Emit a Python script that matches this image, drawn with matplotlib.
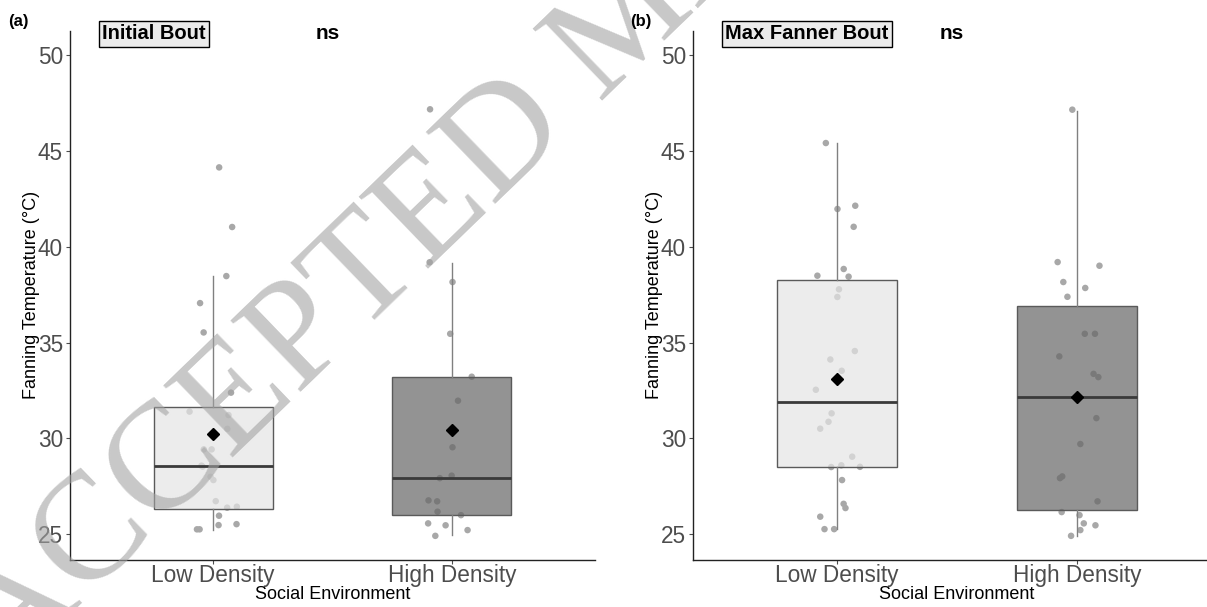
import numpy as np
import matplotlib
matplotlib.use("Agg")
import matplotlib.pyplot as plt

# Categories and panel titles
groups = ["Low Density", "High Density"]
panel_tags = ["(a)", "(b)"]
panel_titles = ["Initial Bout", "Max Fanner Bout"]
sig_labels = ["ns", "ns"]

# Fanning temperatures (°C)
a_low = [44.14, 41.03, 38.47, 37.06, 35.53, 32.39, 31.40, 31.22, 30.50, 29.43, 29.43, 28.53,
         28.58, 28.00, 27.83, 26.73, 26.44, 26.39, 25.97, 25.53, 25.26, 25.26, 25.48]
a_high = [47.17, 39.19, 38.16, 35.46, 33.22, 31.97, 29.54, 28.06, 27.93, 26.77, 26.72, 26.00,
          26.18, 25.47, 25.57, 25.22, 24.92]
b_low = [45.41, 42.14, 41.97, 41.04, 38.84, 38.44, 38.49, 37.78, 37.38, 34.56, 34.12, 33.53,
         32.54, 31.31, 30.87, 30.51, 29.05, 28.51, 28.52, 28.60, 27.83, 26.59, 26.37, 25.92,
         25.27, 25.27]
b_high = [47.15, 39.20, 39.01, 38.16, 37.85, 37.39, 35.46, 35.46, 34.28, 33.37, 33.20, 31.06,
          29.71, 27.93, 28.02, 26.72, 26.00, 26.16, 25.47, 25.57, 25.22, 24.92]

# Box summaries: [low, high]
a_whislo = [25.20, 24.96]
a_q1 = [26.30, 26.02]
a_med = [28.54, 27.95]
a_q3 = [31.62, 33.22]
a_whishi = [38.47, 39.15]
a_mean = [30.23, 30.44]

b_whislo = [25.27, 24.92]
b_q1 = [28.52, 26.28]
b_med = [31.91, 32.14]
b_q3 = [38.26, 36.89]
b_whishi = [45.40, 47.10]
b_mean = [33.08, 32.14]

yticks = [25, 30, 35, 40, 45, 50]

panels = [
    dict(points=[a_low, a_high], whislo=a_whislo, q1=a_q1, med=a_med, q3=a_q3,
         whishi=a_whishi, mean=a_mean),
    dict(points=[b_low, b_high], whislo=b_whislo, q1=b_q1, med=b_med, q3=b_q3,
         whishi=b_whishi, mean=b_mean),
]

plt.rcParams['font.family'] = ['Liberation Sans', 'DejaVu Sans']

W, H = 1207, 607
fig = plt.figure(figsize=(W / 100, H / 100), dpi=100)

# axes boxes in pixels: left, top, right, bottom
axes_px = [(70, 30.7, 595, 560), (693, 30.7, 1221, 560)]
box_fills = [(0.898, 0.898, 0.898, 0.7), (0.4, 0.4, 0.4, 0.7)]
rng = np.random.default_rng(7)

for i, p in enumerate(panels):
    l, t, r, b = axes_px[i]
    ax = fig.add_axes([l / W, (H - b) / H, (r - l) / W, (b - t) / H])

    # jittered raw points
    for k, vals in enumerate(p["points"]):
        xs = (k + 1) + rng.uniform(-0.1, 0.1, len(vals))
        ax.scatter(xs, vals, s=22, color="#a8a8a8", edgecolors="none", zorder=1)

    stats = []
    for k in range(2):
        stats.append(dict(whislo=p["whislo"][k], q1=p["q1"][k], med=p["med"][k],
                          q3=p["q3"][k], whishi=p["whishi"][k], mean=p["mean"][k],
                          fliers=[]))
    bp = ax.bxp(stats, positions=[1, 2], widths=0.5, patch_artist=True,
                showfliers=False, showcaps=False, showmeans=True,
                boxprops=dict(edgecolor="#5a5a5a", linewidth=1.0),
                whiskerprops=dict(color="#808080", linewidth=1.0),
                medianprops=dict(color="#3a3a3a", linewidth=2.0),
                meanprops=dict(marker="D", markerfacecolor="black",
                               markeredgecolor="black", markersize=6))
    for patch, fc in zip(bp["boxes"], box_fills):
        patch.set_facecolor(fc)
        patch.set_zorder(2)

    ax.set_xlim(0.4, 2.6)
    ax.set_ylim(23.66, 51.27)
    ax.set_yticks(yticks)
    ax.set_xticks([1, 2])
    ax.set_xticklabels(groups)
    ax.tick_params(axis="both", labelsize=16.3, labelcolor="#4d4d4d",
                   color="#4d4d4d", length=3, width=0.8)
    ax.tick_params(axis="y", pad=2)
    ax.tick_params(axis="x", pad=0)
    for side in ["top", "right"]:
        ax.spines[side].set_visible(False)
    for side in ["left", "bottom"]:
        ax.spines[side].set_color("#222222")
        ax.spines[side].set_linewidth(1.0)

    ax.set_ylabel("Fanning Temperature (°C)", fontsize=13, labelpad=-1.5)
    ax.set_xlabel("Social Environment", fontsize=13, labelpad=-1)

    ax.text(0.535, 51.1, panel_titles[i], fontsize=14.5, fontweight="bold",
            ha="left", va="center", clip_on=False,
            bbox=dict(boxstyle="square,pad=0.17", facecolor="#ebebeb",
                      edgecolor="black", linewidth=1.0))
    ax.text(1.48, 51.1, sig_labels[i], fontsize=15, fontweight="bold",
            ha="center", va="center", clip_on=False)

    fig.text((l - 52) / W, (H - 21.5) / H, panel_tags[i], fontsize=12,
             fontweight="bold", ha="center", va="center", zorder=20)

# watermark
fig.text(-21 / W, (H - 652) / H, "ACCEPTED MANUSCRIPT", rotation=44,
         rotation_mode="anchor", fontsize=110, family="Liberation Serif",
         color="#a3a3a3", alpha=0.6, ha="left", va="center", zorder=10)

fig.savefig("out.png", dpi=100)
